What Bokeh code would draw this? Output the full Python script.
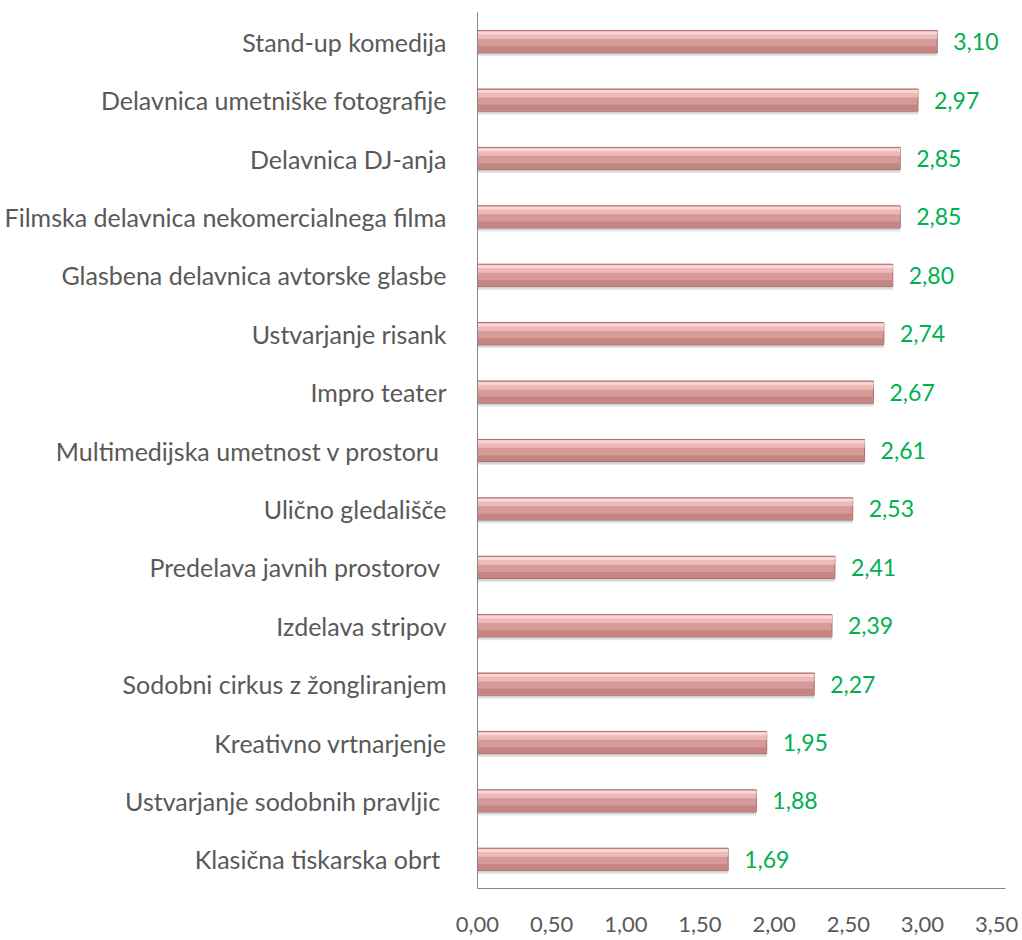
from bokeh.plotting import figure
from bokeh.models import ColumnDataSource, FactorRange, FixedTicker, Range1d
from bokeh.transform import dodge
from bokeh.core.properties import value
from bokeh.embed import file_html
from bokeh.resources import INLINE

categories = [
    "Stand-up komedija",
    "Delavnica umetniške fotografije",
    "Delavnica DJ-anja",
    "Filmska delavnica nekomercialnega filma",
    "Glasbena delavnica avtorske glasbe",
    "Ustvarjanje risank",
    "Impro teater",
    "Multimedijska umetnost v prostoru ",
    "Ulično gledališče",
    "Predelava javnih prostorov ",
    "Izdelava stripov",
    "Sodobni cirkus z žongliranjem",
    "Kreativno vrtnarjenje",
    "Ustvarjanje sodobnih pravljic ",
    "Klasična tiskarska obrt ",
]
values = [3.10, 2.97, 2.85, 2.85, 2.80, 2.74, 2.67, 2.61, 2.53, 2.41, 2.39, 2.27, 1.95, 1.88, 1.69]
tick_values = [0.0, 0.5, 1.0, 1.5, 2.0, 2.5, 3.0, 3.5]
tick_labels = ["0,00", "0,50", "1,00", "1,50", "2,00", "2,50", "3,00", "3,50"]

FONT = "Lato"
TEXT_COL = "#595959"

src = ColumnDataSource(dict(
    cat=categories,
    val=values,
    lbl=[f"{v:.2f}".replace(".", ",") for v in values],
))

p = figure(
    width=1022, height=940,
    y_range=FactorRange(*reversed(categories), range_padding=0),
    x_range=Range1d(0, 3.56),
    output_backend="svg", toolbar_location=None,
    min_border_left=477, min_border_right=17, min_border_top=12, min_border_bottom=52,
)
p.y_range.range_padding = 0
p.outline_line_color = None
p.xgrid.grid_line_color = None
p.ygrid.grid_line_color = None
p.background_fill_color = "white"
p.border_fill_color = "white"

# soft shadow
p.hbar(y=dodge("cat", -0.06, range=p.y_range), right="val", left=0, height=0.38,
       source=src, fill_color="#7f7f7f", fill_alpha=0.18, line_color=None)
p.hbar(y=dodge("cat", -0.035, range=p.y_range), right="val", left=0, height=0.38,
       source=src, fill_color="#7f7f7f", fill_alpha=0.2, line_color=None)
# main bar
p.hbar(y="cat", right="val", left=0, height=0.38, source=src,
       fill_color="#D69A98", line_color="#A86C6A", line_width=1)
# lower darker band
p.hbar(y=dodge("cat", -0.13, range=p.y_range), right="val", left=0, height=0.1,
       source=src, fill_color="#C58583", line_color=None)
# upper light band
p.hbar(y=dodge("cat", 0.11, range=p.y_range), right="val", left=0, height=0.13,
       source=src, fill_color="#EDBAB8", line_color=None)
# top highlight
p.hbar(y=dodge("cat", 0.15, range=p.y_range), right="val", left=0, height=0.05,
       source=src, fill_color="#F8D8D6", line_color=None)

p.text(x="val", y="cat", text="lbl", source=src, x_offset=16,
       text_baseline="middle", text_align="left", text_color="#00B050",
       text_font=value(FONT), text_font_size="23px")

p.xaxis.ticker = FixedTicker(ticks=tick_values)
p.xaxis.major_label_overrides = {t: l for t, l in zip(tick_values, tick_labels)}
for ax in (p.xaxis, p.yaxis):
    ax.axis_line_color = "#868686"
    ax.major_tick_line_color = None
    ax.minor_tick_line_color = None
    ax.major_label_text_color = TEXT_COL
    ax.major_label_text_font = FONT
p.xaxis.major_label_text_font_size = "22px"
p.yaxis.major_label_text_font_size = "25px"
p.xaxis.major_label_standoff = 22
p.yaxis.major_label_standoff = 25

open("out.html", "w").write(file_html(p, INLINE))
